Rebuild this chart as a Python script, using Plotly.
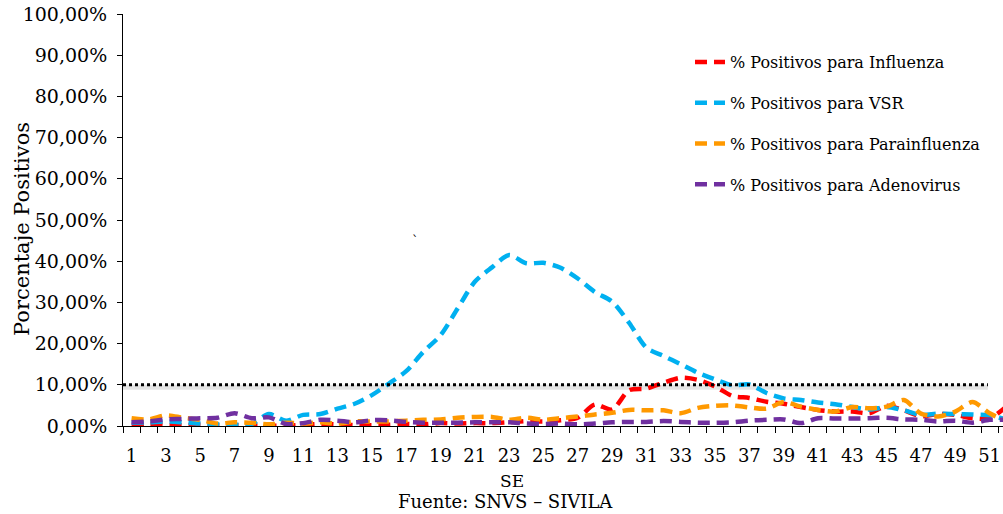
import plotly.graph_objects as go

# Semana epidemiológica (SE)
weeks = list(range(1, 53))

# Porcentaje de positivos por agente y semana
influenza = [0.3, 0.5, 0.3, 0.2, 0.3, 0.2, 0.2, 0.1, 0.1, 0.1, 0.3, 0.5, 0.4, 0.2, 0.2, 0.3,
             0.5, 0.4, 0.7, 0.6, 0.7, 0.7, 0.9, 1.2, 1.1, 1.4, 2.0, 5.2, 4.0, 8.7, 9.1, 10.5,
             11.7, 11.2, 9.6, 7.3, 6.8, 5.9, 5.4, 4.6, 3.9, 3.5, 3.5, 3.1, 4.9, 3.8, 2.4, 2.9,
             2.7, 1.9, 1.9, 4.8]
vsr = [0.8, 0.9, 1.1, 0.9, 0.6, 0.4, 0.3, 0.5, 2.9, 1.3, 2.7, 2.9, 4.2, 5.4, 7.5, 10.3,
       13.3, 18.0, 22.0, 28.5, 35.0, 38.5, 41.5, 39.5, 39.6, 38.4, 35.8, 32.5, 30.2, 25.0,
       19.0, 17.0, 15.0, 12.9, 11.3, 9.9, 10.1, 8.0, 6.7, 6.3, 5.7, 5.3, 4.6, 4.0, 4.6, 3.8,
       2.7, 3.0, 2.9, 2.8, 2.6, 1.5]
parainfluenza = [1.9, 1.6, 2.6, 2.0, 1.5, 0.6, 0.9, 0.8, 0.4, 0.8, 0.6, 0.9, 0.6, 1.1, 1.1, 1.1,
                 1.3, 1.5, 1.6, 2.0, 2.2, 2.2, 1.5, 2.0, 1.5, 1.9, 2.3, 2.8, 3.2, 3.9, 3.8, 3.8,
                 3.1, 4.4, 4.9, 5.0, 4.5, 4.2, 5.8, 4.7, 3.9, 3.5, 4.6, 4.3, 4.7, 6.3, 3.0, 2.3,
                 3.5, 5.8, 3.1, 1.1]
adenovirus = [0.9, 1.1, 1.6, 1.7, 1.9, 2.0, 3.1, 1.9, 2.1, 0.5, 0.7, 1.5, 1.3, 0.9, 1.4, 1.4,
              1.0, 0.8, 0.8, 0.8, 0.9, 0.9, 0.9, 0.6, 0.5, 0.6, 0.4, 0.6, 0.9, 1.0, 1.0, 1.2,
              1.0, 0.8, 0.8, 0.9, 1.3, 1.5, 1.6, 0.7, 1.9, 1.8, 1.8, 1.9, 2.0, 1.6, 1.5, 1.1,
              1.3, 0.8, 1.5, 1.5]

# Umbral de referencia (%)
umbral = 10

series_names = ["% Positivos para Influenza", "% Positivos para VSR",
                "% Positivos para Parainfluenza", "% Positivos para Adenovirus"]
series_values = [influenza, vsr, parainfluenza, adenovirus]
series_colors = ["#FF0000", "#00B0F0", "#FF9900", "#7030A0"]

y_ticks = list(range(0, 101, 10))
y_ticktext = [f"{v:.2f}".replace(".", ",") + "%" for v in y_ticks]
x_ticks = [w for w in weeks if w % 2 == 1]

FONT = "DejaVu Serif"

fig = go.Figure()

for i, (name, vals, col) in enumerate(zip(series_names, series_values, series_colors)):
    fig.add_trace(go.Scatter(
        x=weeks, y=vals, name=name, mode="lines",
        line=dict(color=col, width=4.5, dash="12px,7px", shape="spline", smoothing=0.8),
        legendgroup=f"g{i}",
    ))

# Línea de umbral punteada con sombra
fig.add_shape(type="line", xref="x", yref="y",
              x0=weeks[0] - 0.5, x1=weeks[-2] - 0.1, y0=umbral - 0.6, y1=umbral - 0.6,
              line=dict(color="rgba(0,0,0,0.10)", width=5), layer="below")
fig.add_shape(type="line", xref="x", yref="y",
              x0=weeks[0] - 0.5, x1=weeks[-2] - 0.1, y0=umbral, y1=umbral,
              line=dict(color="black", width=3, dash="3px,3px"))


def label(text, px, py, size, angle=0):
    fig.add_annotation(text=text, xref="paper", yref="paper",
                       x=(px - 123) / 880, y=(426 - py) / 412,
                       xanchor="center", yanchor="middle", textangle=angle,
                       showarrow=False, font=dict(family=FONT, size=size, color="black"))


label("Porcentaje Positivos", 22, 229, 21, angle=-90)
label("SE", 512, 481, 17)
label("Fuente: SNVS – SIVILA", 505, 501, 18)
label("`", 415, 240, 13)

fig.update_layout(
    width=1003, height=514,
    margin=dict(l=123, r=0, t=14, b=88),
    paper_bgcolor="white", plot_bgcolor="white",
    font=dict(family=FONT, color="black", size=18),
    showlegend=True,
    legend=dict(x=(690 - 123) / 880, y=(426 - 45) / 412, xanchor="left", yanchor="top",
                font=dict(family=FONT, size=16, color="black"),
                tracegroupgap=17, bgcolor="rgba(0,0,0,0)"),
    xaxis=dict(range=[0.5, 51.78], tickvals=x_ticks, ticktext=[str(w) for w in x_ticks],
               ticks="", showline=True, linecolor="black", linewidth=1, showgrid=False,
               zeroline=False, tickfont=dict(family=FONT, size=18), ticklabelstandoff=13,
               minor=dict(tick0=0.5, dtick=1, ticks="outside", ticklen=6,
                          tickcolor="black", showgrid=False)),
    yaxis=dict(range=[0, 100], tickvals=y_ticks, ticktext=y_ticktext,
               ticks="outside", ticklen=5, tickcolor="black", ticklabelstandoff=6,
               showline=True, linecolor="black", linewidth=1, showgrid=False, zeroline=False,
               tickfont=dict(family=FONT, size=19)),
)

fig.write_html("out.html")
